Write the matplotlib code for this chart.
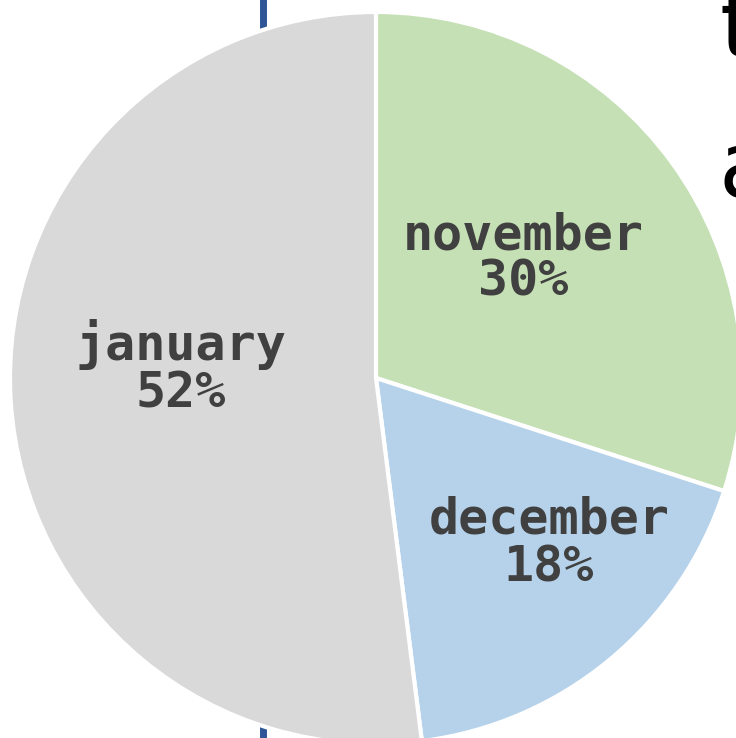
import matplotlib
matplotlib.use("Agg")
import matplotlib.pyplot as plt

# data
months = ["november", "december", "january"]
shares = [30, 18, 52]
slice_colors = ["#C5E0B4", "#B5D2EA", "#D9D9D9"]

W, H = 736, 738

fig = plt.figure(figsize=(W / 100, H / 100), dpi=100)
ax = fig.add_axes([0, 0, 1, 1])

# blue rule sitting behind the pie
ax.axvline(262.5, color="#2F5597", linewidth=5, zorder=0)

cx, cy, r = 376, H - 378, 366
wedges, _ = ax.pie(
    shares, colors=slice_colors, startangle=90, counterclock=False,
    center=(cx, cy), radius=r, frame=True,
    wedgeprops=dict(edgecolor="white", linewidth=3),
)
for w in wedges:
    w.set_zorder(2)

# label anchors in pixels (x centre, baseline of name line, baseline of pct line)
label_pos = [(523, 250, 295), (549, 533, 582), (181, 360, 408)]
for name, pct, (lx, b1, b2) in zip(months, shares, label_pos):
    ax.text(lx, H - b1, name, ha="center", va="baseline", fontsize=36,
            family="DejaVu Sans Mono", weight="bold", color="#404040", zorder=3)
    ax.text(lx, H - b2, f"{pct}%", ha="center", va="baseline", fontsize=36,
            family="DejaVu Sans Mono", weight="bold", color="#404040", zorder=3)

# clipped heading text on the right edge
ax.text(719, H - 57, "t", ha="left", va="baseline", fontsize=66, color="black")
ax.text(719, H - 197, "a", ha="left", va="baseline", fontsize=66, color="black")

ax.set_xlim(0, W)
ax.set_ylim(0, H)
ax.set_aspect("equal")
ax.axis("off")

fig.savefig("out.png", dpi=100)
